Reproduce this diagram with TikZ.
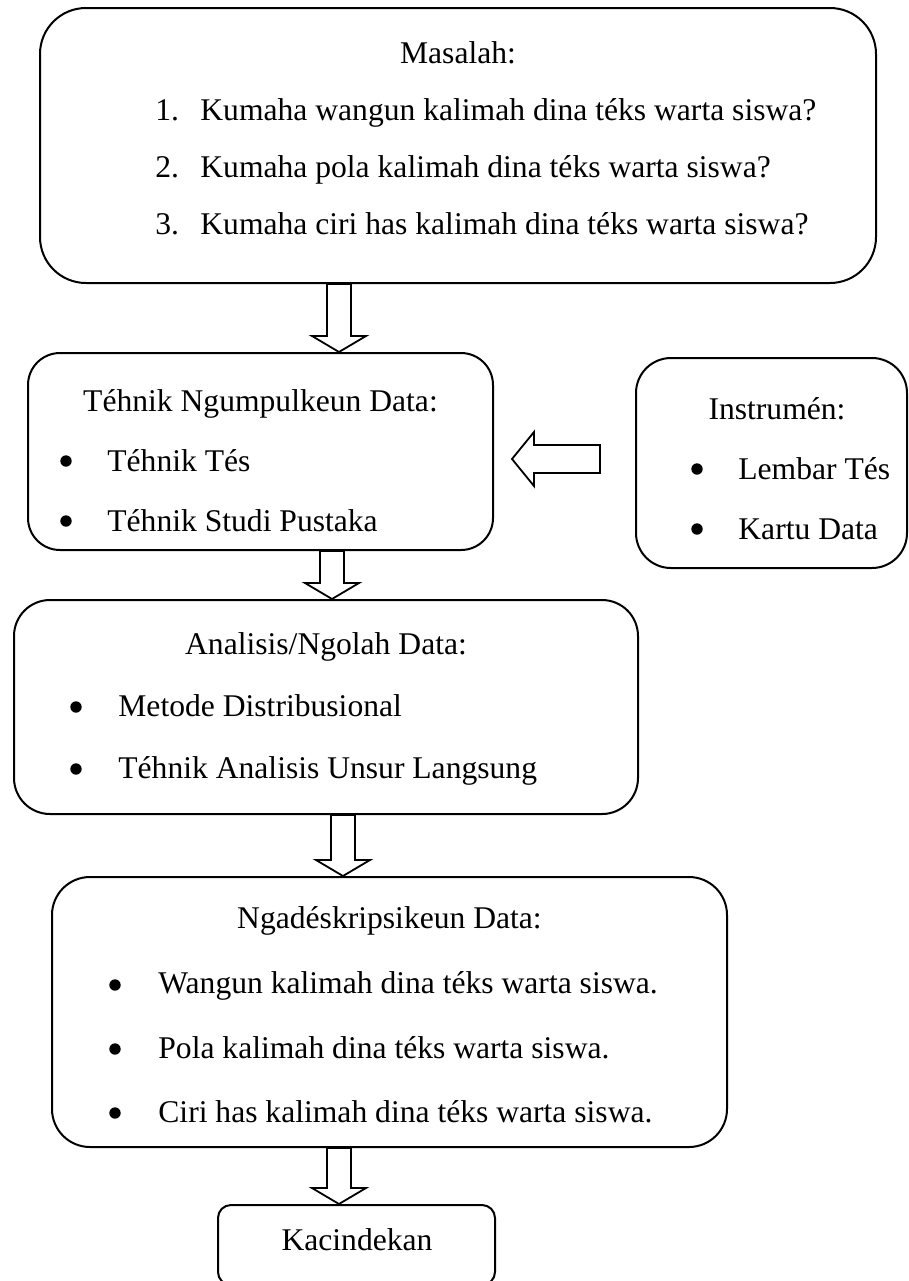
\documentclass[tikz,border=0pt]{standalone}
\usepackage{fontspec}
\setmainfont{Liberation Serif}
\usetikzlibrary{calc}

\newcommand{\panahturun}[3]{%
  \draw[panah] let \p1=(#1.south), \p2=(#2.north), \p3=(#3,0) in
    (\x3-6pt,\y1) -- (\x3-6pt,\y2+8pt) -- (\x3-13.5pt,\y2+8pt) -- (\x3,\y2)
    -- (\x3+13.5pt,\y2+8pt) -- (\x3+6pt,\y2+8pt) -- (\x3+6pt,\y1) -- cycle;}

\begin{document}
\begin{tikzpicture}[x=0.5pt,y=-0.5pt,
  kotak/.style={draw,line width=1pt,inner sep=0pt},
  panah/.style={draw,fill=white,line width=0.9pt,line join=miter},
  teks/.style={font=\fontsize{15.8}{19}\selectfont,inner sep=0pt,anchor=base},
  kiri/.style={teks,anchor=base west},
  butir/.style={circle,fill=black,inner sep=0pt,minimum size=5.7pt}]
			\useasboundingbox (0,0) rectangle (909,1281);
			
			\node[kotak,rounded corners=23pt,minimum width=418pt,minimum height=137.5pt] (masalah) at (458,145.5) {};
			\node[kotak,rounded corners=16pt,minimum width=232.5pt,minimum height=98.5pt] (tehnik) at (260.5,451.5) {};
			\node[kotak,rounded corners=17.5pt,minimum width=135.5pt,minimum height=105pt] (instrumen) at (771.5,463) {};
			\node[kotak,rounded corners=18pt,minimum width=312pt,minimum height=107pt] (analisis) at (326,707) {};
			\node[kotak,rounded corners=19pt,minimum width=337.5pt,minimum height=135pt] (ngadeskrip) at (389.5,1012) {};
			\node[kotak,rounded corners=6.5pt,minimum width=138.5pt,minimum height=40pt] (kacindekan) at (356.5,1245) {};
			
			\panahturun{masalah}{tehnik}{339}
			\panahturun{tehnik}{analisis}{332}
			\panahturun{analisis}{ngadeskrip}{343}
			\panahturun{ngadeskrip}{kacindekan}{339}
			
			\coordinate (ujung) at (512,459);
			\draw[panah] (ujung) -- ++(22,-27) -- ++(0,13) -- ++(66,0) -- ++(0,28) -- ++(-66,0) -- ++(0,13) -- cycle;
			
			\node[teks] (jmasalah) at (458,63) {Masalah:};
			\foreach \n/\y/\t in {1/120/{Kumaha wangun kalimah dina téks warta siswa?},
			                      2/177/{Kumaha pola kalimah dina téks warta siswa?},
			                      3/234/{Kumaha ciri has kalimah dina téks warta siswa?}}
			{
			\node[kiri] (no\n) at (155,\y) {\n.};
			\node[kiri] (m\n) at (200,\y) {\t};
			}
			
			\node[teks] (jtehnik) at (260.5,411) {Téhnik Ngumpulkeun Data:};
			\node[kiri] (t1) at (107,471) {Téhnik Tés};
			\node[kiri] (t2) at (107,531) {Téhnik Studi Pustaka};
			
			\node[teks] (jinstrumen) at (777,419) {Instrumén:};
			\node[kiri] (i1) at (738,479) {Lembar Tés};
			\node[kiri] (i2) at (738,539) {Kartu Data};
			
			\node[teks] (janalisis) at (326,654) {Analisis/Ngolah Data:};
			\node[kiri] (a1) at (118,716) {Metode Distribusional};
			\node[kiri] (a2) at (118,778) {Téhnik Analisis Unsur Langsung};
			
			\node[teks] (jngadeskrip) at (389.5,928) {Ngadéskripsikeun Data:};
			\node[kiri] (n1) at (158,993) {Wangun kalimah dina téks warta siswa.};
			\node[kiri] (n2) at (158,1058) {Pola kalimah dina téks warta siswa.};
			\node[kiri] (n3) at (158,1122) {Ciri has kalimah dina téks warta siswa.};
			
			\node[teks] (jkacindekan) at (357,1250) {Kacindekan};
			
			\foreach \x/\y/\b in {66/461/bt1,66/521/bt2,697/469/bi1,697/529/bi2,
			                      76/707/ba1,76/769/ba2,115/985/bn1,115/1049/bn2,115/1113/bn3}
			\node[butir] (\b) at (\x,\y) {};
\end{tikzpicture}
\end{document}
